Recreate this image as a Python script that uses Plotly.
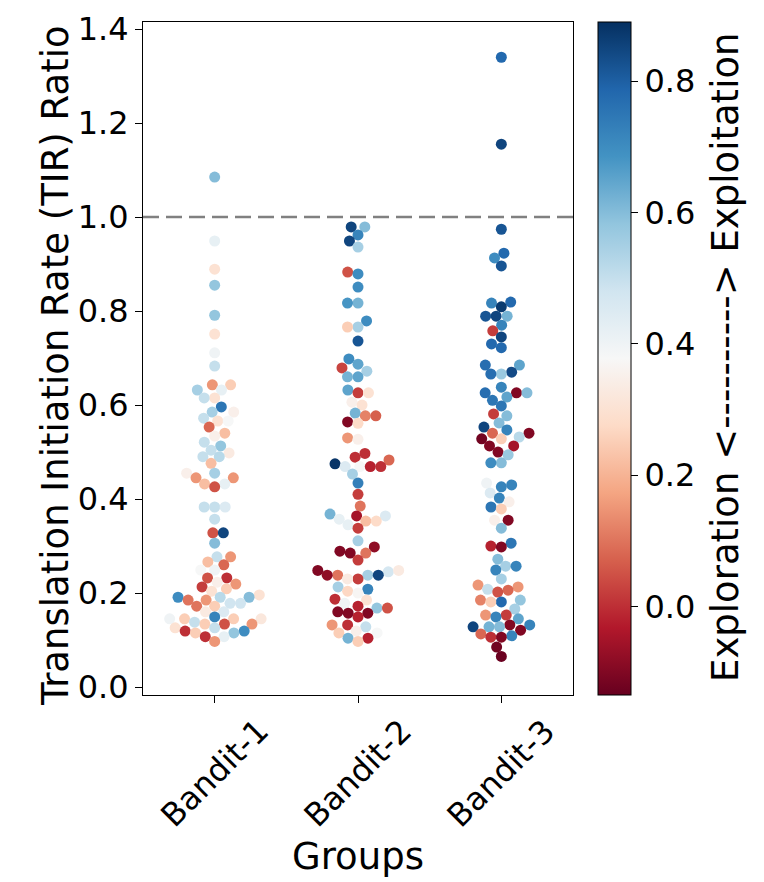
import numpy as np
import plotly.graph_objects as go

groups = ["Bandit-1", "Bandit-2", "Bandit-3"]

b1_tir = [1.085, 0.949, 0.889, 0.855, 0.791, 0.751, 0.711, 0.683, 0.643, 0.643, 0.632, 0.632,
          0.615, 0.615, 0.596, 0.585, 0.585, 0.572, 0.566, 0.566, 0.553, 0.540, 0.534, 0.521,
          0.513, 0.504, 0.498, 0.490, 0.490, 0.476, 0.455, 0.455, 0.445, 0.445, 0.432, 0.432,
          0.426, 0.383, 0.383, 0.383, 0.357, 0.328, 0.328, 0.306, 0.277, 0.277, 0.266, 0.260,
          0.249, 0.249, 0.232, 0.232, 0.223, 0.219, 0.213, 0.209, 0.204, 0.196, 0.191, 0.191,
          0.191, 0.185, 0.185, 0.178, 0.178, 0.172, 0.172, 0.160, 0.160, 0.149, 0.145, 0.145,
          0.145, 0.145, 0.138, 0.134, 0.134, 0.134, 0.126, 0.126, 0.119, 0.119, 0.115, 0.115,
          0.107, 0.107, 0.097]
b1_score = [0.60, 0.42, 0.30, 0.58, 0.58, 0.30, 0.40, 0.50, 0.15, 0.25, 0.42, 0.55,
            0.30, 0.50, 0.75, 0.55, 0.35, 0.50, 0.30, 0.38, 0.08, 0.22, 0.35, 0.50,
            0.58, 0.50, 0.33, 0.52, 0.50, 0.22, 0.55, 0.35, 0.15, 0.15, 0.22, 0.42,
            0.05, 0.50, 0.50, 0.45, 0.50, 0.05, 0.85, 0.60, 0.50, 0.15, 0.22, 0.08,
            0.40, 0.38, 0.05, 0.00, 0.35, 0.15, 0.02, 0.25, 0.30, 0.30, 0.52, 0.60,
            0.70, 0.15, 0.10, 0.48, 0.48, 0.25, 0.10, 0.33, 0.45, 0.72, 0.25, 0.25,
            0.40, 0.32, 0.50, 0.25, 0.05, 0.15, 0.50, 0.30, 0.00, 0.70, 0.25, 0.58,
            0.00, 0.42, 0.15]

b2_tir = [0.979, 0.979, 0.962, 0.949, 0.936, 0.883, 0.879, 0.851, 0.817, 0.817, 0.779, 0.766,
          0.766, 0.736, 0.698, 0.687, 0.679, 0.672, 0.660, 0.660, 0.632, 0.626, 0.626, 0.606,
          0.600, 0.583, 0.577, 0.577, 0.564, 0.561, 0.530, 0.527, 0.497, 0.489, 0.483, 0.475,
          0.469, 0.469, 0.469, 0.469, 0.453, 0.434, 0.410, 0.385, 0.368, 0.364, 0.364, 0.357,
          0.353, 0.353, 0.345, 0.338, 0.311, 0.298, 0.289, 0.285, 0.285, 0.270, 0.248, 0.245,
          0.248, 0.238, 0.238, 0.238, 0.238, 0.230, 0.230, 0.213, 0.208, 0.204, 0.200, 0.187,
          0.185, 0.178, 0.172, 0.168, 0.168, 0.160, 0.157, 0.157, 0.149, 0.132, 0.132, 0.128,
          0.119, 0.115, 0.115, 0.104, 0.104, 0.097]
b2_score = [0.85, 0.60, 0.72, 0.85, 0.55, 0.05, 0.70, 0.70, 0.62, 0.68, 0.70, 0.55,
            0.25, 0.82, 0.70, 0.65, 0.03, 0.55, 0.65, 0.62, 0.65, 0.02, 0.30, 0.35,
            0.30, 0.62, 0.12, 0.07, -0.10, 0.28, 0.15, 0.35, 0.00, 0.00, 0.08, 0.88,
            0.38, -0.02, 0.45, 0.00, 0.55, 0.73, 0.02, 0.10, 0.62, -0.05, 0.45, 0.42,
            0.22, 0.28, 0.42, 0.02, 0.55, -0.08, -0.10, -0.10, 0.10, 0.02, -0.10, 0.47,
            0.33, 0.55, 0.10, 0.85, -0.08, 0.02, 0.33, 0.55, 0.72, 0.27, 0.37, 0.00,
            0.30, 0.40, -0.02, 0.58, 0.05, -0.10, -0.10, -0.10, -0.02, 0.00, 0.15, 0.50,
            0.35, 0.25, 0.38, 0.62, -0.02, 0.25]

b3_tir = [1.340, 1.155, 0.974, 0.923, 0.913, 0.896, 0.819, 0.817, 0.809, 0.789, 0.789, 0.789,
          0.770, 0.758, 0.745, 0.730, 0.722, 0.685, 0.685, 0.670, 0.666, 0.666, 0.638, 0.626,
          0.626, 0.626, 0.617, 0.610, 0.598, 0.581, 0.577, 0.562, 0.553, 0.547, 0.540, 0.540,
          0.532, 0.528, 0.528, 0.513, 0.513, 0.500, 0.494, 0.477, 0.477, 0.434, 0.430, 0.426,
          0.413, 0.402, 0.394, 0.383, 0.379, 0.355, 0.355, 0.338, 0.306, 0.300, 0.298, 0.272,
          0.257, 0.257, 0.249, 0.230, 0.217, 0.213, 0.208, 0.206, 0.202, 0.185, 0.185, 0.181,
          0.181, 0.166, 0.153, 0.153, 0.149, 0.145, 0.132, 0.132, 0.128, 0.128, 0.128, 0.121,
          0.113, 0.109, 0.106, 0.106, 0.085, 0.065]
b3_score = [0.78, 0.85, 0.82, 0.78, 0.70, 0.82, 0.78, 0.72, 0.87, 0.85, 0.62, 0.82,
            0.72, 0.02, 0.85, 0.78, 0.78, 0.77, 0.65, 0.84, 0.57, 0.77, 0.72, -0.10,
            0.77, 0.60, 0.65, 0.75, 0.75, 0.02, 0.60, 0.60, 0.85, 0.72, 0.08, -0.10,
            0.52, 0.25, -0.12, -0.10, -0.05, -0.10, 0.57, 0.60, 0.70, 0.40, 0.72, 0.72,
            0.45, 0.72, 0.35, 0.75, 0.25, 0.35, -0.10, 0.60, 0.75, -0.02, -0.10, 0.60,
            0.55, 0.72, 0.72, 0.55, 0.15, 0.15, 0.50, 0.08, 0.05, 0.58, 0.12, 0.78,
            0.25, 0.55, 0.02, 0.15, 0.72, 0.65, -0.10, 0.72, 0.60, 0.62, 0.85, -0.10,
            0.08, 0.72, -0.10, 0.00, -0.12, -0.13]

y_ticks = [0.0, 0.2, 0.4, 0.6, 0.8, 1.0, 1.2, 1.4]
cbar_ticks = [0.0, 0.2, 0.4, 0.6, 0.8]
ref_line = 1.0
c_min, c_max = -0.135, 0.89

RdBu = ["#67001f", "#b2182b", "#d6604d", "#f4a582", "#fddbc7", "#f7f7f7",
        "#d1e5f0", "#92c5de", "#4393c3", "#2166ac", "#053061"]
colorscale = [[i / (len(RdBu) - 1), c] for i, c in enumerate(RdBu)]

# page offset: the browser body adds an 8px margin around the plot div
OFF = 8
FIG_W, FIG_H = 764 - OFF, 882 - OFF
Y_RANGE = [-0.017, 1.415]
X_RANGE = [-0.5, 2.5]
PLOT_L, PLOT_R, PLOT_T, PLOT_B = 143 - OFF, 573 - OFF, 22 - OFF, 695 - OFF
PLOT_W = PLOT_R - PLOT_L
PLOT_H = PLOT_B - PLOT_T
DIAM = 10.5


def px_x(page_x):
    return (page_x - OFF - PLOT_L) / PLOT_W


def px_y(page_y):
    return (PLOT_B - (page_y - OFF)) / PLOT_H


def swarm_offsets(yvals):
    """Beeswarm layout: returns x offsets (data units) so markers don't overlap."""
    ypx = np.asarray(yvals) * PLOT_H / (Y_RANGE[1] - Y_RANGE[0])
    order = np.argsort(ypx, kind="stable")
    placed = []
    xs = np.zeros(len(yvals))
    for i in order:
        y = ypx[i]
        near = [(px, py) for px, py in placed if abs(py - y) < DIAM]
        cands = [0.0]
        for px, py in near:
            dx = np.sqrt(max(DIAM ** 2 - (py - y) ** 2, 0.0))
            cands += [px - dx, px + dx]
        cands.sort(key=abs)
        for c in cands:
            if all((c - px) ** 2 + (y - py) ** 2 >= DIAM ** 2 - 1e-6 for px, py in near):
                xs[i] = c
                break
        placed.append((xs[i], y))
    return xs * (X_RANGE[1] - X_RANGE[0]) / PLOT_W


FONT = "DejaVu Sans"
fig = go.Figure()
data = [(b1_tir, b1_score), (b2_tir, b2_score), (b3_tir, b3_score)]
for gi, (tir, score) in enumerate(data):
    off = swarm_offsets(tir)
    fig.add_trace(go.Scatter(
        x=gi + off, y=tir, mode="markers",
        marker=dict(size=11, color=score, colorscale=colorscale, cmin=c_min, cmax=c_max,
                    line=dict(width=0),
                    showscale=(gi == 0),
                    colorbar=dict(
                        x=px_x(598), xanchor="left", xpad=0, ypad=0,
                        y=0.5, yanchor="middle", len=PLOT_H, lenmode="pixels",
                        thickness=33, thicknessmode="pixels",
                        outlinewidth=1, outlinecolor="black",
                        tickvals=cbar_ticks, tickformat=".1f", ticks="outside",
                        ticklen=7, tickwidth=1, tickcolor="black",
                        tickfont=dict(family=FONT, size=32, color="black"),
                    )),
        showlegend=False, hoverinfo="skip"))

fig.add_shape(type="line", xref="paper", yref="y", x0=0, x1=1, y0=ref_line, y1=ref_line,
              line=dict(color="rgb(128,128,128)", width=2.5, dash="16px,7px"))

for gi, g in enumerate(groups):
    fig.add_annotation(x=gi, xref="x", y=px_y(773), yref="paper",
                       text=g, textangle=-45, showarrow=False,
                       xanchor="center", yanchor="middle",
                       font=dict(family=FONT, size=32, color="black"))

fig.add_annotation(x=0.5, xref="paper", y=px_y(856), yref="paper",
                   text="Groups", showarrow=False, xanchor="center", yanchor="middle",
                   font=dict(family=FONT, size=37, color="black"))
fig.add_annotation(x=px_x(55), xref="paper", y=px_y(366), yref="paper",
                   text="Translation Initiation Rate (TIR) Ratio", textangle=-90, showarrow=False,
                   xanchor="center", yanchor="middle",
                   font=dict(family=FONT, size=37, color="black"))
fig.add_annotation(x=px_x(725), xref="paper", y=px_y(357), yref="paper",
                   text="Exploration <----------> Exploitation", textangle=-90, showarrow=False,
                   xanchor="center", yanchor="middle",
                   font=dict(family=FONT, size=37, color="black"))

fig.update_layout(
    width=FIG_W, height=FIG_H,
    margin=dict(l=PLOT_L, r=FIG_W - PLOT_R, t=PLOT_T, b=FIG_H - PLOT_B, autoexpand=False),
    paper_bgcolor="white", plot_bgcolor="white",
    font=dict(family=FONT, color="black"),
    xaxis=dict(range=X_RANGE, tickvals=[0, 1, 2], showticklabels=False, ticks="outside",
               ticklen=7, tickwidth=1, tickcolor="black", showgrid=False, zeroline=False,
               showline=True, linecolor="black", linewidth=1, mirror=True),
    yaxis=dict(range=Y_RANGE, tickvals=y_ticks, tickformat=".1f", ticks="outside",
               ticklen=7, tickwidth=1, tickcolor="black", showgrid=False, zeroline=False,
               showline=True, linecolor="black", linewidth=1, mirror=True,
               tickfont=dict(family=FONT, size=32, color="black")),
)

fig.write_html("out.html")
